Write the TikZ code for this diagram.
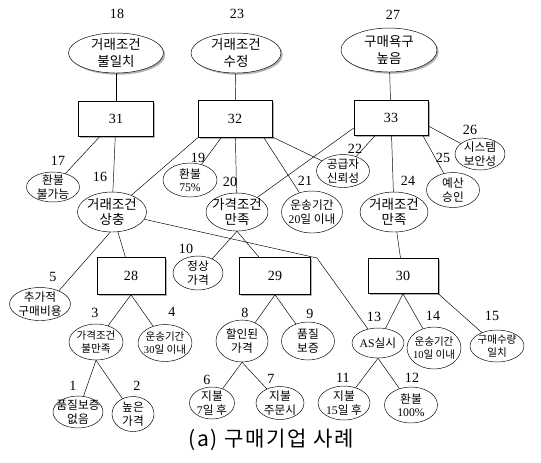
\documentclass[tikz,border=0pt]{standalone}
\usepackage{fontspec}
\setmainfont{Liberation Serif}
\newfontfamily\kr{Noto Sans CJK KR}
\newfontfamily\krcap[LetterSpace=8]{Noto Sans CJK KR}
\usepackage{tikz}
\usetikzlibrary{
    shapes.geometric,
    shadows
}

\newcommand{\nm}[1]{{\rmfamily #1}}

\tikzset{
    wh/.style 2 args={minimum width=#1*0.03cm, minimum height=#2*0.03cm},
    shd/.style={drop shadow={shadow xshift=1.5pt, shadow yshift=-1.5pt, fill=black!60}},
    oval/.style={ellipse, draw, fill=white, inner sep=0pt},
    box/.style={rectangle, draw, fill=white, inner sep=0pt, shd, font=\fontsize{12}{14}\selectfont},
    txt/.style={align=center, inner sep=0pt, font=\kr\fontsize{10}{11.5}\selectfont},
    tinytxt/.style={align=center, inner sep=0pt, font=\kr\fontsize{9}{10.5}\selectfont},
    midtxt/.style={align=center, inner sep=0pt, font=\kr\fontsize{11.5}{13.5}\selectfont},
    bigtxt/.style={align=center, inner sep=0pt, font=\kr\fontsize{11.5}{14.5}\selectfont},
    num/.style={inner sep=0pt, font=\fontsize{12}{14}\selectfont}
}

\begin{document}
\begin{tikzpicture}[x=0.03cm, y=-0.03cm]

\useasboundingbox (0,0) rectangle (541,462);

% Top goals
\node[oval, shd, wh={95}{40}, label={[bigtxt]center:{거래조건\\불일치}}] (n18) at (116,53) {};
\node[oval, shd, wh={90}{40}, label={[bigtxt]center:{거래조건\\수정}}] (n23) at (236,53) {};
\node[oval, shd, wh={96}{44}, label={[bigtxt]center:{구매욕구\\높음}}] (n27) at (389,50) {};
\node[num] (l18) at (117,14) {18};
\node[num] (l23) at (237,14) {23};
\node[num] (l27) at (393,15) {27};

% Boxes
\node[box, wh={75}{35}] (n31) at (116,119) {31};
\node[box, wh={74}{37}] (n32) at (235,119) {32};
\node[box, wh={74}{35}] (n33) at (391,118) {33};
\node[box, wh={68}{37}] (n28) at (131,276) {28};
\node[box, wh={71}{37}] (n29) at (275,276) {29};
\node[box, wh={70}{35}] (n30) at (403,276) {30};

% Middle row
\node[oval, wh={53}{30}, label={[txt]center:{환불\\불가능}}] (n17) at (53,187) {};
\node[oval, wh={69}{40}, label={[midtxt]center:{거래조건\\상충}}] (n16) at (112,212) {};
\node[oval, wh={54}{34}, label={[txt]center:{환불\\\nm{75\%}}}] (n19) at (190,180) {};
\node[oval, wh={62}{38}, label={[midtxt]center:{가격조건\\만족}}] (n20) at (237,212) {};
\node[oval, wh={61}{42}, label={[txt]center:{운송기간\\\nm{20}일 이내}}] (n21) at (312,212) {};
\node[oval, wh={53}{33}, label={[txt]center:{공급자\\신뢰성}}] (n22) at (343,171) {};
\node[oval, wh={68}{40}, label={[midtxt]center:{거래조건\\만족}}] (n24) at (394,212) {};
\node[oval, wh={53}{35}, label={[txt]center:{예산\\승인}}] (n25) at (453,190) {};
\node[oval, wh={50}{32}, label={[txt]center:{시스템\\보안성}}] (n26) at (480,154) {};
\node[num] (l17) at (58,161) {17};
\node[num] (l16) at (100,177) {16};
\node[num] (l19) at (198,158) {19};
\node[num] (l20) at (230,182) {20};
\node[num] (l21) at (305,181) {21};
\node[num] (l22) at (355,149) {22};
\node[num] (l24) at (408,181) {24};
\node[num] (l25) at (443,158) {25};
\node[num] (l26) at (470,130) {26};

% Lower rows
\node[oval, wh={61}{33}, label={[txt]center:{추가적\\구매비용}}] (n5) at (40,304) {};
\node[oval, wh={50}{34}, label={[txt]center:{정상\\가격}}] (n10) at (198,273) {};
\node[oval, wh={54}{36}, label={[tinytxt]center:{가격조건\\불만족}}] (n3) at (96,342) {};
\node[oval, wh={54}{37}, label={[tinytxt]center:{운송기간\\\nm{30}일 이내}}] (n4) at (165,343) {};
\node[oval, wh={50}{32}, label={[txt]center:{품질보증\\없음}}] (n1) at (78,412) {};
\node[oval, wh={42}{35}, label={[txt]center:{높은\\가격}}] (n2) at (133,414) {};
\node[oval, wh={52}{42}, label={[txt]center:{할인된\\가격}}] (n8) at (242,341) {};
\node[oval, wh={53}{38}, label={[txt]center:{품질\\보증}}] (n9) at (308,341) {};
\node[oval, wh={45}{32}, label={[txt]center:{지불\\\nm{7}일 후}}] (n6) at (212,403) {};
\node[oval, wh={48}{33}, label={[txt]center:{지불\\주문시}}] (n7) at (280,403) {};
\node[oval, wh={52}{30}, label={[txt]center:{\nm{AS}실시}}] (n13) at (378,343) {};
\node[oval, wh={54}{42}, label={[tinytxt]center:{운송기간\\\nm{10}일 이내}}] (n14) at (434,348) {};
\node[oval, wh={54}{32}, label={[tinytxt]center:{구매수량\\일치}}] (n15) at (497,346) {};
\node[oval, wh={52}{34}, label={[txt]center:{지불\\\nm{15}일 후}}] (n11) at (344,403) {};
\node[oval, wh={53}{36}, label={[txt]center:{환불\\\nm{100\%}}}] (n12) at (411,405) {};
\node[num] (l5) at (53,277) {5};
\node[num] (l10) at (186,249) {10};
\node[num] (l3) at (95,313) {3};
\node[num] (l4) at (172,312) {4};
\node[num] (l1) at (73,386) {1};
\node[num] (l2) at (137,386) {2};
\node[num] (l8) at (245,313) {8};
\node[num] (l9) at (310,314) {9};
\node[num] (l6) at (207,380) {6};
\node[num] (l7) at (271,379) {7};
\node[num] (l13) at (374,317) {13};
\node[num] (l14) at (433,316) {14};
\node[num] (l15) at (492,316) {15};
\node[num] (l11) at (343,378) {11};
\node[num] (l12) at (412,378) {12};

% Bend of the long line
\coordinate (bend) at (317,258);

% Links
\draw (n18) -- (n31);
\draw (n23) -- (n32);
\draw (n27) -- (n33);
\draw (n31) -- (n17);
\draw (n31) -- (n16);
\draw (n32.south west) -- (n16);
\draw (n32) -- (n19);
\draw (n32) -- (n20);
\draw (n32.-33) -- (n21);
\draw (n32) -- (n22);
\draw (n33.195) -- (n20);
\draw (n33) -- (n22);
\draw (n33) -- (n24);
\draw (n33.-29) -- (n25);
\draw (n33.-12) -- (n26);
\draw (n16.265) -- (n5.35);
\draw (n16) -- (n28);
\draw (n16) -- (bend) -- (n13);
\draw (n20.south) -- (n10.45);
\draw (n20.south) -- (n29);
\draw (n24) -- (n30);
\draw (n28.south) -- (n3);
\draw (n28.south) -- (n4);
\draw (n3.south) -- (n1);
\draw (n3.south) -- (n2);
\draw (n29.south) -- (n8);
\draw (n29.south) -- (n9);
\draw (n8.south) -- (n6);
\draw (n8.south) -- (n7);
\draw (n30.south) -- (n13);
\draw (n30.south) -- (n14);
\draw (n30.south east) -- (n15);
\draw (n13.south) -- (n11);
\draw (n13.south) -- (n12);

% Caption
\node[font=\krcap\fontsize{18}{20}\selectfont] (cap) at (271,440) {(a) 구매기업 사례};

\end{tikzpicture}
\end{document}
